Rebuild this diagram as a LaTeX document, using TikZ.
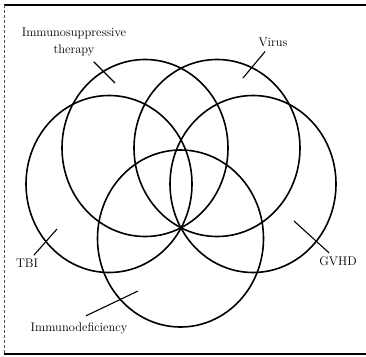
\documentclass[tikz,border=0pt]{standalone}
\usepackage{tikz}
\usetikzlibrary{positioning}
\tikzset{
  ring/.style={line width=1.6pt},
  leader/.style={line width=1.1pt},
  lbl/.style={font=\fontsize{12.5}{17}\selectfont, align=center},
}
\begin{document}
\begin{tikzpicture}[x=1pt, y=-1pt]
\useasboundingbox (0,0) rectangle (366,356);

% Frame (open on the right)
\draw[line width=1.2pt] (366,5) -- (4,5);
\draw[line width=0.7pt, densely dashed, black!70] (4,5) -- (4,354);
\draw[line width=1.2pt] (4,354) -- (366,354);

% Circles (the scan is a little taller than wide)
\foreach \cx/\cy in {145/148, 217/148, 109/184, 253/184, 180.5/238.5} {
    \draw[ring] (\cx,\cy) ellipse [x radius=83pt, y radius=88.5pt];
}

% Labels
\node[lbl] (therapy) at (74,42) {Immunosuppressive\\therapy};
\node[lbl] (virus) at (273,42) {Virus};
\node[lbl] (tbi) at (27,263) {TBI};
\node[lbl] (gvhd) at (338,261) {GVHD};
\node[lbl] (immdef) at (79,328) {Immunodeficiency};

% Leader ends
\coordinate (therapyend) at (115,83);
\coordinate (virusend) at (243,78);
\coordinate (tbiend) at (57,229);
\coordinate (gvhdend) at (294,221);
\coordinate (immdefend) at (138,291);

% Leaders
\draw[leader, shorten <=3pt] (therapy) -- (therapyend);
\draw[leader, shorten <=2pt] (virus) -- (virusend);
\draw[leader] (tbi) -- (tbiend);
\draw[leader] (gvhd) -- (gvhdend);
\draw[leader] ([xshift=7pt, yshift=3pt]immdef.north) -- (immdefend);
\end{tikzpicture}
\end{document}
